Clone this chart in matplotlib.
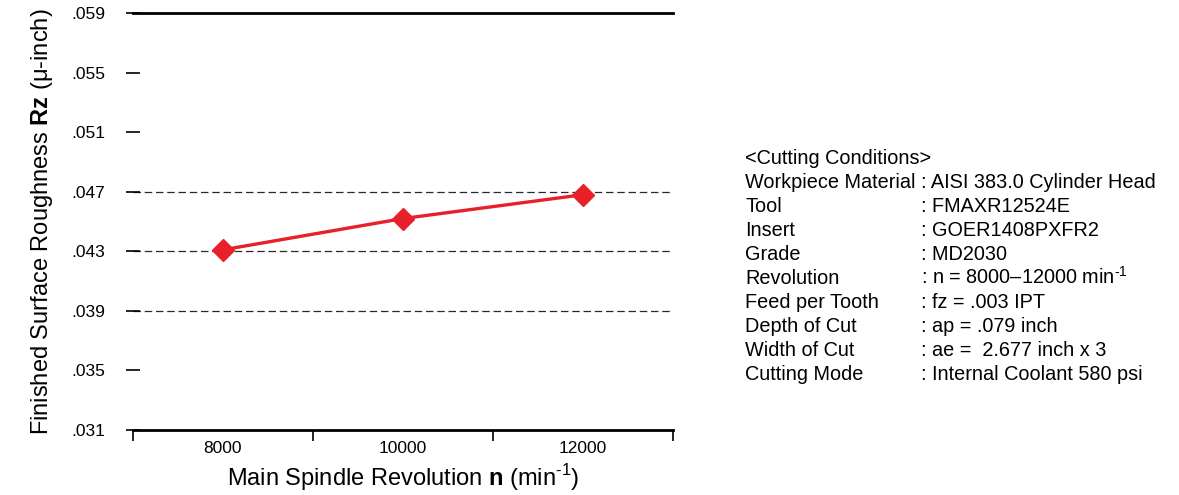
import matplotlib.pyplot as plt
import numpy as np

plt.rcParams['font.family'] = ['Liberation Sans', 'DejaVu Sans']
plt.rcParams['mathtext.fontset'] = 'custom'
plt.rcParams['mathtext.rm'] = 'Liberation Sans'
plt.rcParams['mathtext.bf'] = 'Liberation Sans:bold'

# spindle speed vs. surface roughness
revolutions = ['8000', '10000', '12000']
roughness = [0.0431, 0.0452, 0.0468]
y_ticks = [0.031, 0.035, 0.039, 0.043, 0.047, 0.051, 0.055, 0.059]
grid_levels = [0.039, 0.043, 0.047]

cond_keys = ['Workpiece Material', 'Tool', 'Insert', 'Grade', 'Revolution',
             'Feed per Tooth', 'Depth of Cut', 'Width of Cut', 'Cutting Mode']
cond_vals = [': AISI 383.0 Cylinder Head', ': FMAXR12524E', ': GOER1408PXFR2',
             ': MD2030', ': n = 8000\u201312000 min$^{\\text{-1}}$', ': fz = .003 IPT',
             ': ap = .079 inch', ': ae =  2.677 inch x 3',
             ': Internal Coolant 580 psi']

fig = plt.figure(figsize=(11.79, 4.95), dpi=100)
ax = fig.add_axes([0.1128, 0.1313, 0.458, 0.8424])

x = np.arange(len(revolutions)) + 0.5
for lvl in grid_levels:
    ax.axhline(lvl, color='#2a2a2a', lw=0.9, ls=(0, (6, 3)), zorder=1)
ax.plot(x, roughness, color='#e8202a', lw=2.4, marker='D', markersize=11,
        zorder=3)

ax.set_xlim(0, 3)
ax.set_ylim(0.031, 0.059)
ax.set_xticks(np.arange(4))
ax.set_xticklabels([])
ax.set_xticks(x, minor=True)
ax.set_xticklabels(revolutions, minor=True, fontsize=12.5)
ax.tick_params(axis='x', which='major', direction='out', length=8, width=1.2)
ax.tick_params(axis='x', which='minor', length=0, pad=8)
ax.set_yticks(y_ticks)
ax.set_yticklabels(['.' + f'{v:.3f}'.split('.')[1] for v in y_ticks], fontsize=12.5)
ax.tick_params(axis='y', direction='inout', length=10, width=1.2, pad=15)

for side in ['left', 'right']:
    ax.spines[side].set_visible(False)
ax.spines['top'].set_linewidth(2)
ax.spines['bottom'].set_linewidth(2)

ax.set_xlabel('Main Spindle Revolution $\\mathbf{n}$ (min$^{\\text{-1}}$)',
              fontsize=17, labelpad=4)
ax.set_ylabel('Finished Surface Roughness $\\mathbf{Rz}$ (\u03bc-inch)',
              fontsize=17, labelpad=12)

# cutting conditions block
x0, x1 = 745 / 1179, 921 / 1179
y_top = 1 - 164 / 495
dy = 24 / 495
fig.text(x0, y_top, '<Cutting Conditions>', fontsize=14.3, va='baseline')
for i, (k, v) in enumerate(zip(cond_keys, cond_vals)):
    yy = y_top - (i + 1) * dy
    fig.text(x0, yy, k, fontsize=14.3, va='baseline')
    fig.text(x1, yy, v, fontsize=14.3, va='baseline')

fig.savefig('out.png', dpi=100)
